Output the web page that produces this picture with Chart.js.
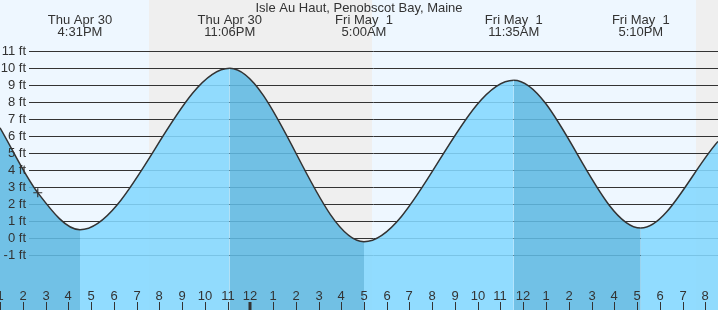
<!DOCTYPE html>
<html>
<head>
<meta charset="UTF-8">
<title>Isle Au Haut, Penobscot Bay, Maine</title>
<script src="https://cdn.jsdelivr.net/npm/chart.js@4.4.0/dist/chart.umd.min.js"></script>
<style>
  body { margin: 0; background: #fff; }
  #wrap { width: 718px; height: 310px; }
</style>
</head>
<body>
<div id="wrap"><canvas id="tideChart" width="718" height="310"></canvas></div>
<script>
// hours are counted from Thu Apr 30 00:00, heights in feet
var tideHours = [13.0, 14.66, 16.517, 23.1, 29.0, 35.583, 41.167, 44.56];
var tideFeet  = [6.5, 2.68, 0.5, 10.0, -0.2, 9.3, 0.6, 5.7];

// high / low labels along the top
var eventHours = [16.517, 23.1, 29.0, 35.583, 41.167];
var eventDays  = ['Thu Apr 30', 'Thu Apr 30', 'Fri May  1', 'Fri May  1', 'Fri May  1'];
var eventTimes = ['4:31PM', '11:06PM', '5:00AM', '11:35AM', '5:10PM'];

// night shading (sunset -> sunrise)
var nightStart = [19.55, 43.59];
var nightEnd   = [29.35, 50];

// current time marker
var nowHour = 14.66;
var nowFeet = 2.68;

var ftTicks  = [-1, 0, 1, 2, 3, 4, 5, 6, 7, 8, 9, 10, 11];
var ftLabels = ['-1 ft', '0 ft', '1 ft', '2 ft', '3 ft', '4 ft', '5 ft', '6 ft', '7 ft', '8 ft', '9 ft', '10 ft', '11 ft'];

var hourTicks  = [13, 14, 15, 16, 17, 18, 19, 20, 21, 22, 23, 24, 25, 26, 27, 28,
                  29, 30, 31, 32, 33, 34, 35, 36, 37, 38, 39, 40, 41, 42, 43, 44];
var hourLabels = ['1', '2', '3', '4', '5', '6', '7', '8', '9', '10', '11', '12', '1', '2', '3', '4',
                  '5', '6', '7', '8', '9', '10', '11', '12', '1', '2', '3', '4', '5', '6', '7', '8'];
var midnightHour = 24;

var titleText = 'Isle Au Haut, Penobscot Bay, Maine';

var floodFill = 'rgba(132, 216, 255, 0.88)';
var ebbFill   = 'rgba(96, 186, 226, 0.88)';
var textColor = '#333';
var font13 = '13px "Liberation Sans", Arial, sans-serif';

var tidePoints = tideHours.map(function (h, i) { return { x: h, y: tideFeet[i] }; });

// background, grid and all the text
var tidePainter = {
  id: 'tidePainter',
  beforeDatasetsDraw: function (chart) {
    var c = chart.ctx, xs = chart.scales.x, ys = chart.scales.y;
    c.save();
    c.fillStyle = '#EEF7FF';
    c.fillRect(0, 0, chart.width, chart.height);
    c.fillStyle = '#EFEFEF';
    for (var i = 0; i < nightStart.length; i++) {
      var x0 = Math.round(xs.getPixelForValue(nightStart[i]));
      var x1 = Math.round(xs.getPixelForValue(nightEnd[i]));
      c.fillRect(x0, 0, x1 - x0, chart.height);
    }
    c.strokeStyle = '#333';
    c.lineWidth = 1;
    ftTicks.forEach(function (v) {
      var py = Math.floor(ys.getPixelForValue(v)) + 0.5;
      c.beginPath();
      c.moveTo(29, py);
      c.lineTo(chart.width, py);
      c.stroke();
    });
    c.restore();
  },
  afterDraw: function (chart) {
    var c = chart.ctx, xs = chart.scales.x, ys = chart.scales.y;
    c.save();
    c.fillStyle = textColor;
    c.font = font13;

    // y labels
    c.textAlign = 'right';
    c.textBaseline = 'middle';
    ftTicks.forEach(function (v, i) {
      c.fillText(ftLabels[i], 26, ys.getPixelForValue(v) + 0.5);
    });

    // title and event labels
    c.textAlign = 'center';
    c.textBaseline = 'alphabetic';
    c.fillText(titleText, chart.width / 2, 12);
    eventHours.forEach(function (h, i) {
      var px = xs.getPixelForValue(h);
      c.fillText(eventDays[i], px, 24);
      c.fillText(eventTimes[i], px, 36);
    });

    // hour axis
    c.strokeStyle = '#333';
    c.lineWidth = 1;
    hourTicks.forEach(function (h, i) {
      var px = Math.round(xs.getPixelForValue(h));
      c.fillText(hourLabels[i], px, 300);
      if (h === midnightHour) {
        c.fillRect(px - 1.5, 302, 3, 8);
      } else {
        c.beginPath();
        c.moveTo(px + 0.5, 302);
        c.lineTo(px + 0.5, 310);
        c.stroke();
      }
    });
    c.restore();
  }
};

new Chart(document.getElementById('tideChart'), {
  type: 'line',
  data: {
    datasets: [
      {
        label: 'Tide',
        data: tidePoints,
        borderColor: '#333',
        borderWidth: 1.5,
        backgroundColor: floodFill,
        fill: 'start',
        cubicInterpolationMode: 'monotone',
        pointRadius: 0,
        segment: {
          backgroundColor: function (ctx) {
            return ctx.p1.parsed.y < ctx.p0.parsed.y ? ebbFill : floodFill;
          }
        },
        order: 2
      },
      {
        label: 'Now',
        data: [{ x: nowHour, y: nowFeet }],
        showLine: false,
        pointStyle: 'cross',
        pointRadius: 4.5,
        borderColor: '#333',
        borderWidth: 1.2,
        order: 1
      }
    ]
  },
  options: {
    responsive: false,
    animation: false,
    layout: { padding: 0, autoPadding: false },
    plugins: {
      legend: { display: false },
      tooltip: { enabled: false }
    },
    scales: {
      x: { type: 'linear', min: 13.0, max: 13.0 + 718 / 22.75, display: false },
      y: { min: -4.22, max: 14.02, display: false }
    }
  },
  plugins: [tidePainter]
});
</script>
</body>
</html>
